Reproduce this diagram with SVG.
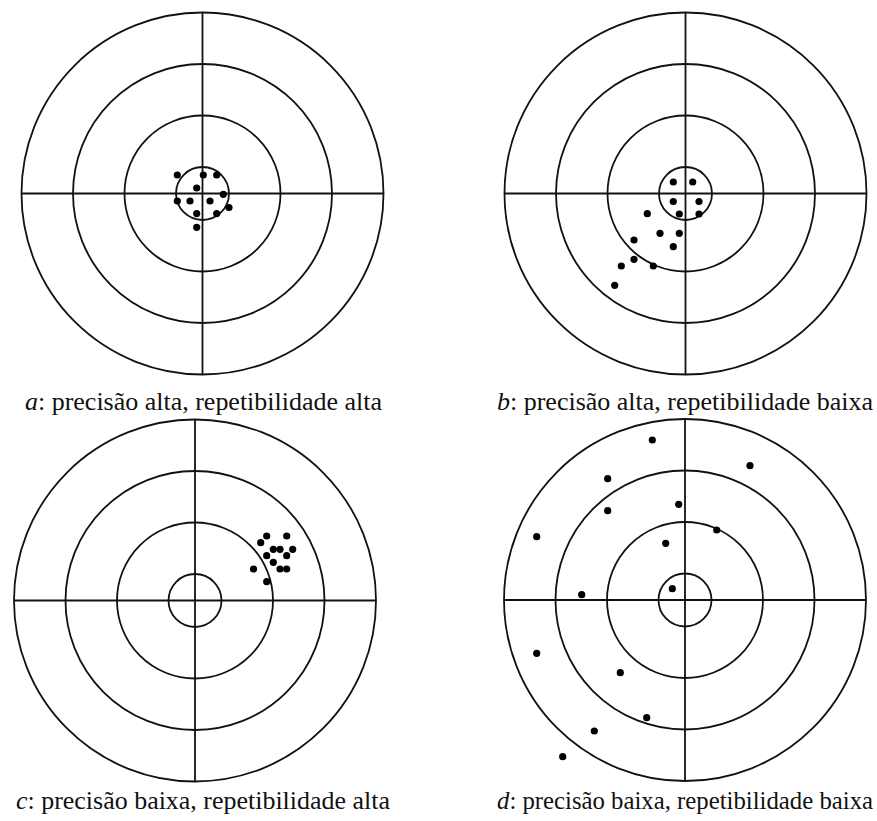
<svg xmlns="http://www.w3.org/2000/svg" xmlns:xlink="http://www.w3.org/1999/xlink" width="877" height="821" viewBox="0 0 877 821">
<style>
.ring{fill:none;stroke:#111;stroke-width:1.8}
.dot{fill:#000}
.lbl{font-family:Liberation Serif,Times New Roman,Times,serif;font-size:26px;fill:#111}
.it{font-style:italic}
</style>
<defs>
<g id="target">
<circle class="ring" cx="0" cy="0" r="181"/>
<circle class="ring" cx="0" cy="0" r="129.5"/>
<circle class="ring" cx="0" cy="0" r="78"/>
<circle class="ring" cx="0" cy="0" r="26.5"/>
<line class="ring" x1="-181" y1="0" x2="181" y2="0"/>
<line class="ring" x1="0" y1="-181" x2="0" y2="181"/>
</g>
</defs>
<rect width="877" height="821" fill="#fff"/>

<g id="target-a">
<use xlink:href="#target" href="#target" transform="translate(202.5,193.5)"/>
<g class="dot">
<circle cx="177.3" cy="175" r="3.6"/>
<circle cx="203.3" cy="175" r="3.6"/>
<circle cx="216.7" cy="175" r="3.6"/>
<circle cx="196.7" cy="188" r="3.6"/>
<circle cx="223.3" cy="194.3" r="3.6"/>
<circle cx="177.3" cy="201" r="3.6"/>
<circle cx="190" cy="201" r="3.6"/>
<circle cx="210" cy="201" r="3.6"/>
<circle cx="229" cy="207.5" r="3.6"/>
<circle cx="196.7" cy="213.6" r="3.6"/>
<circle cx="216.7" cy="213.6" r="3.6"/>
<circle cx="196.7" cy="227.3" r="3.6"/>
</g>
<text class="lbl" x="25" y="410" textLength="357" lengthAdjust="spacingAndGlyphs"><tspan class="it">a</tspan>: precisão alta, repetibilidade alta</text>
</g>

<g id="target-b">
<use xlink:href="#target" href="#target" transform="translate(685.5,193.5)"/>
<g class="dot">
<circle cx="673.3" cy="182" r="3.6"/>
<circle cx="692.7" cy="182" r="3.6"/>
<circle cx="673.3" cy="201.5" r="3.6"/>
<circle cx="699" cy="201.5" r="3.6"/>
<circle cx="679.3" cy="214" r="3.6"/>
<circle cx="699" cy="214" r="3.6"/>
<circle cx="647.3" cy="213.7" r="3.6"/>
<circle cx="660" cy="233.3" r="3.6"/>
<circle cx="679.3" cy="233.3" r="3.6"/>
<circle cx="634" cy="240" r="3.6"/>
<circle cx="673.3" cy="246.7" r="3.6"/>
<circle cx="634" cy="259.3" r="3.6"/>
<circle cx="621.3" cy="266" r="3.6"/>
<circle cx="653.3" cy="266" r="3.6"/>
<circle cx="614.7" cy="285.3" r="3.6"/>
</g>
<text class="lbl" x="497" y="410" textLength="376" lengthAdjust="spacingAndGlyphs"><tspan class="it">b</tspan>: precisão alta, repetibilidade baixa</text>
</g>

<g id="target-c">
<use xlink:href="#target" href="#target" transform="translate(195,600.5)"/>
<g class="dot">
<circle cx="266.7" cy="536" r="3.6"/>
<circle cx="286.7" cy="536" r="3.6"/>
<circle cx="260.7" cy="542.7" r="3.6"/>
<circle cx="273.3" cy="549.3" r="3.6"/>
<circle cx="280" cy="549.3" r="3.6"/>
<circle cx="292.7" cy="549.3" r="3.6"/>
<circle cx="266.7" cy="555.7" r="3.6"/>
<circle cx="286.7" cy="555.7" r="3.6"/>
<circle cx="273.3" cy="562.3" r="3.6"/>
<circle cx="253.5" cy="569" r="3.6"/>
<circle cx="280" cy="569" r="3.6"/>
<circle cx="286.7" cy="569" r="3.6"/>
<circle cx="266.7" cy="581.7" r="3.6"/>
</g>
<text class="lbl" x="16" y="809" textLength="374" lengthAdjust="spacingAndGlyphs"><tspan class="it">c</tspan>: precisão baixa, repetibilidade alta</text>
</g>

<g id="target-d">
<use xlink:href="#target" href="#target" transform="translate(685,600)"/>
<g class="dot">
<circle cx="652.3" cy="440" r="3.6"/>
<circle cx="750" cy="465.7" r="3.6"/>
<circle cx="607.7" cy="478.7" r="3.6"/>
<circle cx="678.7" cy="504.3" r="3.6"/>
<circle cx="607.7" cy="510.7" r="3.6"/>
<circle cx="716.7" cy="530" r="3.6"/>
<circle cx="536.7" cy="536.7" r="3.6"/>
<circle cx="665.7" cy="543.3" r="3.6"/>
<circle cx="672.3" cy="588.7" r="3.6"/>
<circle cx="581.7" cy="594.7" r="3.6"/>
<circle cx="536.7" cy="653.3" r="3.6"/>
<circle cx="620.3" cy="672.7" r="3.6"/>
<circle cx="646.7" cy="717.7" r="3.6"/>
<circle cx="594.3" cy="731" r="3.6"/>
<circle cx="562.7" cy="756.7" r="3.6"/>
</g>
<text class="lbl" x="497" y="809" textLength="376" lengthAdjust="spacingAndGlyphs"><tspan class="it">d</tspan>: precisão baixa, repetibilidade baixa</text>
</g>
</svg>
